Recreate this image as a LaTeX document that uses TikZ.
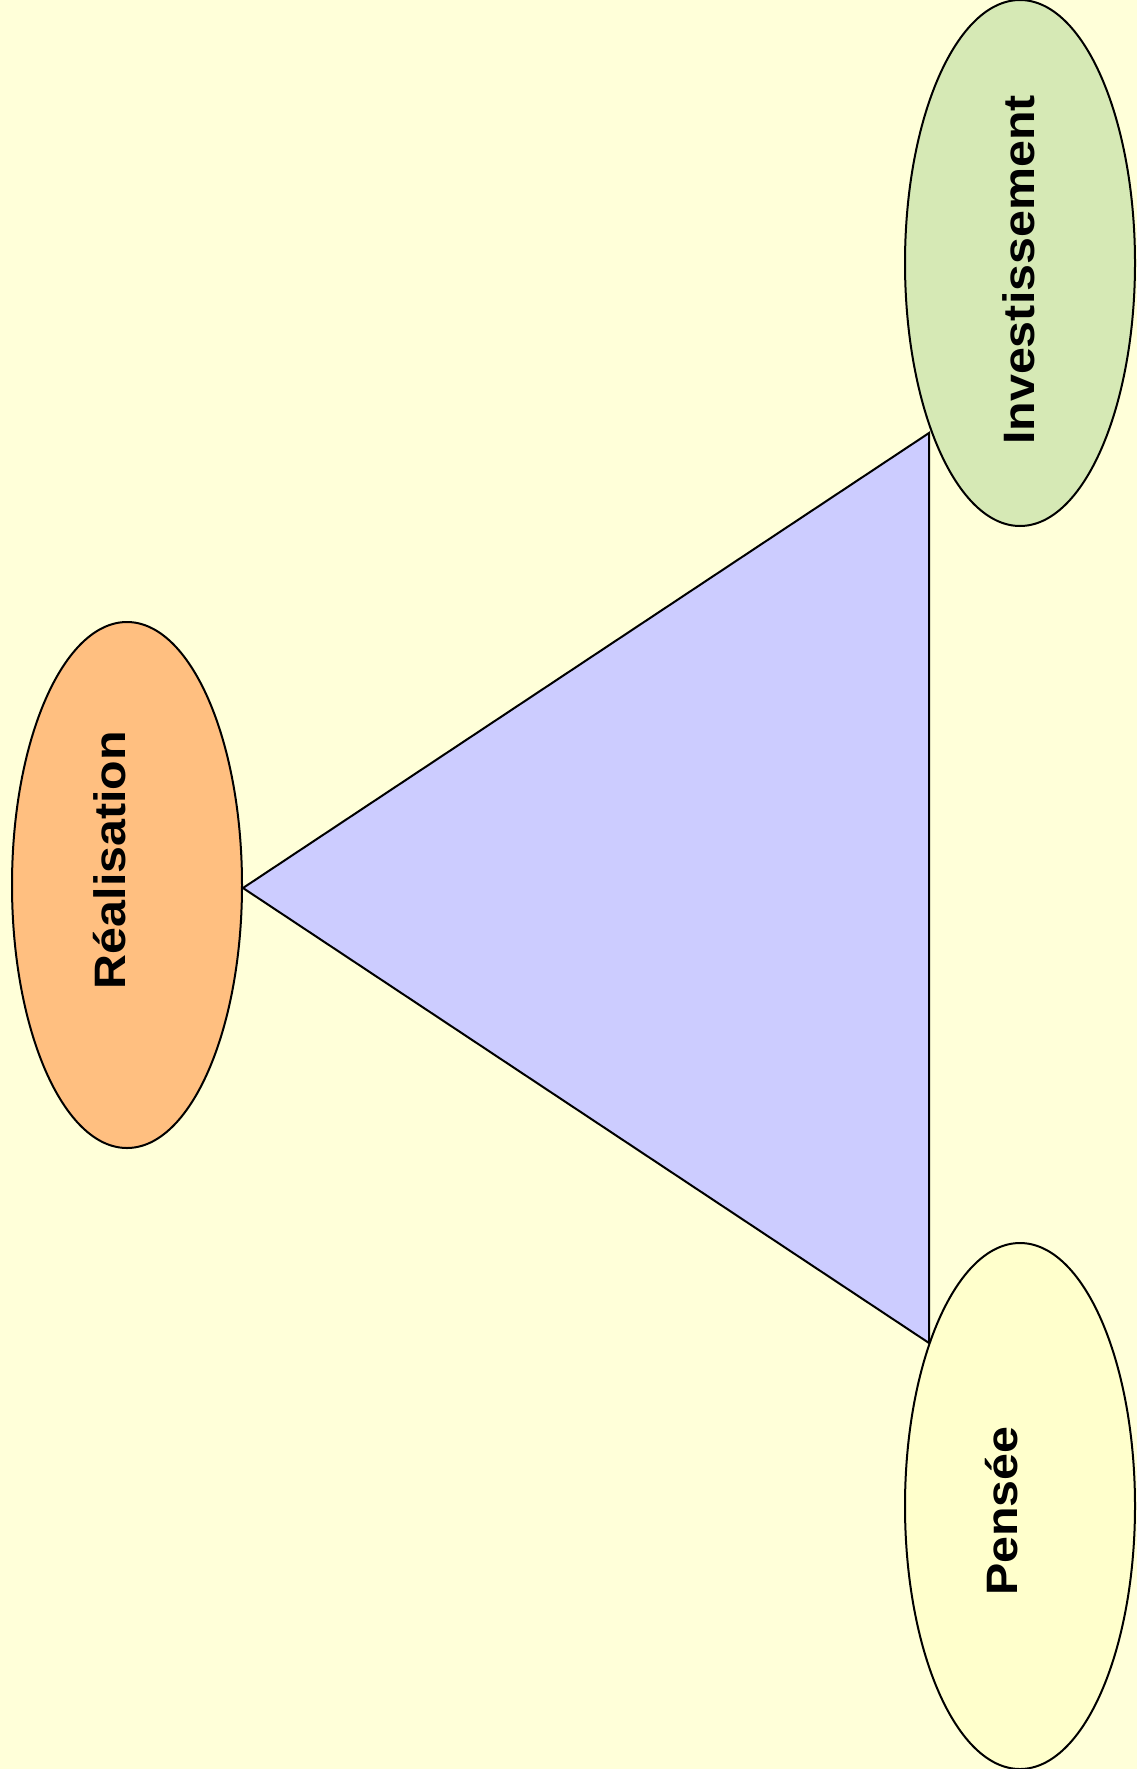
\documentclass[tikz,border=0pt]{standalone}
\usepackage{fontspec}
\setmainfont{Liberation Sans}
\usetikzlibrary{shapes.geometric}
\definecolor{bgcol}{RGB}{255,255,217}
\definecolor{invcol}{RGB}{214,233,181}
\definecolor{realcol}{RGB}{255,191,128}
\definecolor{pencol}{RGB}{255,255,204}
\definecolor{tricol}{RGB}{204,204,255}
\newcommand{\wtext}[1]{\scalebox{1.1}[1]{#1}}
\begin{document}
\begin{tikzpicture}[x=1pt,y=1pt,
  oval/.style={ellipse,draw=black,line width=2pt,minimum width=230pt,minimum height=526pt,inner sep=0pt},
  label/.style={rotate=90,anchor=base,font=\fontsize{44}{52}\selectfont\bfseries,inner sep=0pt}]
\fill[bgcol] (0,0) rectangle (1137,-1769);
\useasboundingbox (0,0) rectangle (1137,-1769);
\coordinate (tl) at (243,-888);
\coordinate (tt) at (929,-433);
\coordinate (tb) at (929,-1343);
\filldraw[fill=tricol,draw=black,line width=2pt,line join=miter] (tl) -- (tt) -- (tb) -- cycle;
\node[oval,fill=invcol] (inv) at (1020,-263) {};
\node[oval,fill=realcol] (real) at (127,-885) {};
\node[oval,fill=pencol] (pen) at (1020,-1506) {};
\node[label] (invt) at (1034,-270) {\wtext{Investissement}};
\node[label] (realt) at (125,-860) {\wtext{Réalisation}};
\node[label] (pent) at (1017,-1511) {\wtext{Pensée}};
\end{tikzpicture}
\end{document}
